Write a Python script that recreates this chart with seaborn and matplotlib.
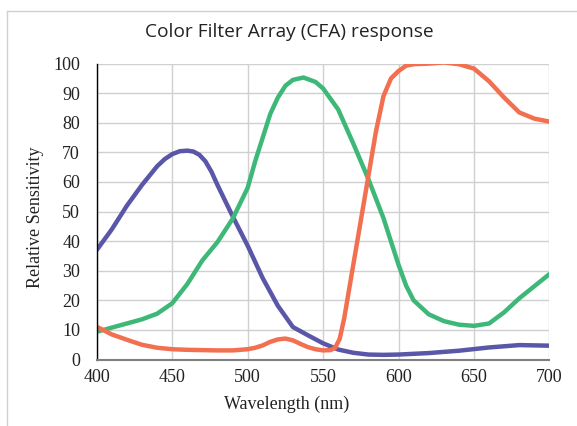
import numpy as np
import pandas as pd
import seaborn as sns
import matplotlib
matplotlib.use("Agg")
import matplotlib.pyplot as plt
from matplotlib.lines import Line2D

# Data
blue_wl = [400, 410, 420, 430, 440, 445, 450, 455, 460, 464, 468, 472, 476, 480, 490, 500,
           510, 520, 530, 540, 550, 560, 570, 580, 590, 600, 620, 640, 660, 680, 700]
blue_val = [37, 44, 52, 59, 65.3, 67.7, 69.4, 70.4, 70.6, 70.3, 69.2, 67, 63.5, 59, 48.5, 38.5,
            27.5, 18.2, 11, 8.2, 5.5, 3.4, 2.3, 1.7, 1.6, 1.7, 2.2, 3.0, 4.1, 4.9, 4.7]

green_wl = [400, 410, 420, 430, 440, 450, 460, 470, 480, 490, 500, 505, 510, 515, 520,
            525, 530, 537, 545, 550, 560, 570, 580, 590, 600, 605, 610, 620, 630, 640,
            650, 660, 670, 680, 690, 700]
green_val = [9.4, 10.8, 12.2, 13.6, 15.5, 19, 25.5, 33.5, 39.7, 47.5, 58, 67, 75, 83, 88.5,
             92.5, 94.5, 95.3, 93.8, 91.6, 84.5, 73, 61, 47.8, 32, 25, 20, 15.3, 13, 11.8,
             11.4, 12.2, 16, 20.7, 24.8, 28.9]

red_wl = [400, 410, 420, 430, 440, 450, 460, 470, 480, 490, 500, 505, 510, 515, 520, 525,
          530, 535, 540, 545, 550, 555, 558, 561, 564, 568, 572, 576, 580, 585, 590, 595,
          600, 605, 610, 620, 630, 640, 650, 660, 670, 680, 690, 700]
red_val = [11.1, 8.5, 6.7, 5, 4, 3.5, 3.3, 3.2, 3.1, 3.1, 3.5, 4, 4.8, 6, 6.8, 7.1,
           6.5, 5.3, 4.2, 3.5, 3.1, 3.2, 4, 7, 14, 26, 38, 50, 62, 77, 89, 95,
           97.5, 99.3, 99.8, 100, 100.4, 99.8, 98.3, 94, 88.5, 83.5, 81.4, 80.4]

x_ticks = [400, 450, 500, 550, 600, 650, 700]
y_ticks = [0, 10, 20, 30, 40, 50, 60, 70, 80, 90, 100]

title = "Color Filter Array (CFA) response"
x_label = "Wavelength (nm)"
y_label = "Relative Sensitivity"

df = pd.concat([
    pd.DataFrame({"wl": blue_wl, "val": blue_val, "ch": "Blue"}),
    pd.DataFrame({"wl": green_wl, "val": green_val, "ch": "Green"}),
    pd.DataFrame({"wl": red_wl, "val": red_val, "ch": "Red"}),
])
palette = {"Blue": "#5A56A8", "Green": "#3DB878", "Red": "#F26F50"}

sns.set_style("white")
plt.rcParams["font.family"] = ["Liberation Serif", "DejaVu Serif"]

fig = plt.figure(figsize=(5.77, 4.26), dpi=100)
ax = fig.add_axes([0.1676, 0.1559, 0.9523 - 0.1676, 0.8507 - 0.1559])

sns.lineplot(data=df, x="wl", y="val", hue="ch", palette=palette, linewidth=3.2,
             legend=False, ax=ax, solid_capstyle="round", solid_joinstyle="round",
             estimator=None, sort=True)

ax.set_xlim(400, 700)
ax.set_ylim(0, 100)
ax.set_xticks(x_ticks)
ax.set_yticks(y_ticks)
ax.grid(True, color="#d0d0d0", linewidth=1.0)
ax.set_axisbelow(True)
for s in ["top", "right"]:
    ax.spines[s].set_visible(False)
ax.spines["left"].set_color("black")
ax.spines["left"].set_linewidth(1.0)
ax.spines["bottom"].set_color("#7f7f7f")
ax.spines["bottom"].set_linewidth(1.5)
ax.spines["left"].set_zorder(5)
ax.spines["bottom"].set_zorder(5)
ax.tick_params(axis="both", length=0, labelsize=13, colors="#222222")
ax.tick_params(axis="y", pad=12)
ax.tick_params(axis="x", pad=7)
ax.set_xlabel(x_label, fontsize=13, color="#222222")
ax.set_ylabel(y_label, fontsize=13, color="#222222")
ax.xaxis.label.set_va("center")
ax.yaxis.label.set_va("center")
ax.xaxis.set_label_coords(0.419, -0.150)
ax.yaxis.set_label_coords(-0.136, 0.482)

fig.text(0.501, 0.925, title, ha="center", va="center", fontsize=13.8,
         family=["Open Sans", "DejaVu Sans"], color="#222222")

# light frame around the chart (cropped at right/bottom)
fig.add_artist(Line2D([7 / 577, 7 / 577], [0, 1 - 11 / 426], transform=fig.transFigure,
                      color="#d0d0d0", linewidth=1.0))
fig.add_artist(Line2D([7 / 577, 1], [1 - 11 / 426, 1 - 11 / 426], transform=fig.transFigure,
                      color="#d0d0d0", linewidth=1.0))

fig.savefig("out.png", dpi=100)
